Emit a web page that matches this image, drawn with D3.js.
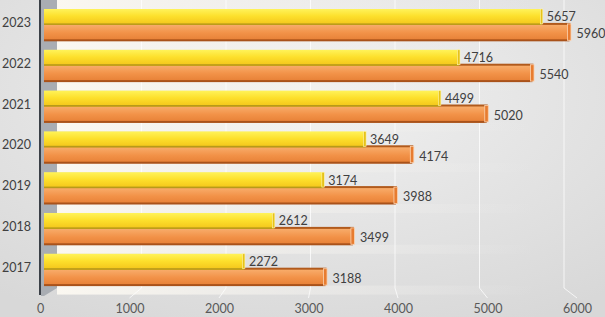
<!DOCTYPE html>
<html>
<head>
<meta charset="utf-8">
<script src="https://cdn.jsdelivr.net/npm/d3@7"></script>
<style>
	body { margin: 0; overflow: hidden; }
	svg { display: block; }
</style>
</head>
<body>
<div id="chart"></div>
<script>
// data, top group first
const years = ['2023', '2022', '2021', '2020', '2019', '2018', '2017'];
const yellowValues = [5657, 4716, 4499, 3649, 3174, 2612, 2272];
const orangeValues = [5960, 5540, 5020, 4174, 3988, 3499, 3188];
const xTickValues = [0, 1000, 2000, 3000, 4000, 5000, 6000];

const width = 605,
	height = 317;

const svg = d3
	.select('#chart')
	.append('svg')
	.attr('width', width)
	.attr('height', height)
	.style('font-family', 'Lato, sans-serif');

const defs = svg.append('defs');

// gradient helper
function gradient(id, stops, vertical) {
	const g = defs
		.append('linearGradient')
		.attr('id', id)
		.attr('x1', 0)
		.attr('y1', 0)
		.attr('x2', vertical ? 0 : 1)
		.attr('y2', vertical ? 1 : 0);
	stops.forEach(function (s) {
		g.append('stop')
			.attr('offset', s[0])
			.attr('stop-color', s[1])
			.attr('stop-opacity', s[2] === undefined ? 1 : s[2]);
	});
}

const bg = defs
	.append('radialGradient')
	.attr('id', 'bg')
	.attr('cx', 0.5)
	.attr('cy', 0.3)
	.attr('r', 0.8);
bg.append('stop').attr('offset', '0%').attr('stop-color', '#f1f1f1');
bg.append('stop').attr('offset', '100%').attr('stop-color', '#d8d8d8');

gradient('yellowFill', [[0, '#fff35a'], [0.45, '#fde02c'], [1, '#f3c41a']], true);
gradient('orangeFill', [[0, '#f8ac6a'], [0.5, '#f29248'], [1, '#e67f35']], true);
gradient('gapFill', [[0, '#fbf8f1', 1], [0.5, '#f4f2ee', 0.55], [1, '#eeeeee', 0]], false);

svg.append('rect').attr('width', width).attr('height', height).attr('fill', 'url(#bg)');

// scales: front face of the bars, floor edge for the tick labels, back wall for grid
const x = d3.scaleLinear().domain([0, 6000]).range([44, 572]);
const xFloor = d3.scaleLinear().domain([0, 6000]).range([40, 577]);
const xBack = d3.scaleLinear().domain([0, 6000]).range([57, 564]);

const y = d3.scaleBand().domain(years).range([9, 285.6]).paddingInner(0.22);
const ySub = d3.scaleBand().domain(['yellow', 'orange']).range([0, y.bandwidth()]);

// light back wall between the groups
const gapTops = [0].concat(years.map((d) => y(d) + y.bandwidth()));
svg
	.append('g')
	.selectAll('rect')
	.data(gapTops)
	.join('rect')
	.attr('x', xBack(0))
	.attr('y', (d) => d)
	.attr('width', 480)
	.attr('height', (d, i) => (i === 0 ? y(years[0]) : y.step() - y.bandwidth()))
	.attr('fill', 'url(#gapFill)');

// grid lines on back wall, bending down to the floor
svg
	.append('g')
	.selectAll('path')
	.data(xTickValues.slice(1))
	.join('path')
	.attr('d', (v) => `M${xBack(v)},0 V288 L${xFloor(v)},298`)
	.attr('fill', 'none')
	.attr('stroke', '#ffffff')
	.attr('stroke-opacity', 0.75)
	.attr('stroke-width', 1);

// left side wall
svg
	.append('path')
	.attr('d', `M41,0 H${xBack(0)} V288 L44,296 H41 Z`)
	.attr('fill', '#a9adb3');

// bars
const groups = svg
	.append('g')
	.selectAll('g')
	.data(years)
	.join('g')
	.attr('transform', (d) => `translate(0,${y(d)})`);

const oy = ySub('orange'),
	yy = ySub('yellow'),
	bh = ySub.bandwidth();

// orange bar (drawn first, its dark top shows past the yellow one)
groups
	.append('rect')
	.attr('x', x(0))
	.attr('y', oy - 2)
	.attr('width', (d, i) => x(orangeValues[i]) - x(0) + 2)
	.attr('height', 3)
	.attr('fill', '#b15a1c');
groups
	.append('rect')
	.attr('x', x(0))
	.attr('y', oy)
	.attr('width', (d, i) => x(orangeValues[i]) - x(0))
	.attr('height', bh)
	.attr('fill', 'url(#orangeFill)');
groups
	.append('rect')
	.attr('x', x(0))
	.attr('y', oy + bh - 1.5)
	.attr('width', (d, i) => x(orangeValues[i]) - x(0) + 1)
	.attr('height', 2)
	.attr('fill', '#a9521a');
groups
	.append('rect')
	.attr('x', (d, i) => x(orangeValues[i]) - 1)
	.attr('y', oy - 1)
	.attr('width', 3.5)
	.attr('height', bh + 0.5)
	.attr('fill', '#e77c30')
	.attr('stroke', '#fbd2b0')
	.attr('stroke-width', 0.8);

// yellow bar
groups
	.append('rect')
	.attr('x', x(0))
	.attr('y', yy)
	.attr('width', (d, i) => x(yellowValues[i]) - x(0))
	.attr('height', bh)
	.attr('fill', 'url(#yellowFill)');
groups
	.append('rect')
	.attr('x', x(0))
	.attr('y', yy + bh - 1.5)
	.attr('width', (d, i) => x(yellowValues[i]) - x(0))
	.attr('height', 1.5)
	.attr('fill', '#b79a1a');
groups
	.append('rect')
	.attr('x', (d, i) => x(yellowValues[i]) - 1.5)
	.attr('y', yy)
	.attr('width', 2.5)
	.attr('height', bh - 1)
	.attr('fill', '#e6c21a')
	.attr('stroke', '#fff6b0')
	.attr('stroke-width', 0.6);

// value labels
groups
	.append('text')
	.attr('x', (d, i) => x(yellowValues[i]) + 5)
	.attr('y', yy + bh / 2)
	.attr('dy', '0.35em')
	.attr('fill', '#404040')
	.style('font-size', '12.5px')
	.text((d, i) => yellowValues[i]);
groups
	.append('text')
	.attr('x', (d, i) => x(orangeValues[i]) + 8)
	.attr('y', oy + bh / 2 + 1)
	.attr('dy', '0.35em')
	.attr('fill', '#404040')
	.style('font-size', '12.5px')
	.text((d, i) => orangeValues[i]);

// vertical axis line
svg
	.append('line')
	.attr('x1', 40)
	.attr('x2', 40)
	.attr('y1', 0)
	.attr('y2', 295)
	.attr('stroke', '#3b4047')
	.attr('stroke-width', 2);

// year labels
const yAxis = svg
	.append('g')
	.attr('transform', 'translate(40,-2)')
	.call(d3.axisLeft(y).tickSize(0).tickPadding(9));
yAxis.select('.domain').remove();
yAxis
	.selectAll('text')
	.attr('fill', '#404040')
	.style('font-size', '12.5px')
	.style('font-family', 'Lato, sans-serif');

// value axis labels
const xAxis = svg
	.append('g')
	.attr('transform', 'translate(0,299)')
	.call(d3.axisBottom(xFloor).tickValues(xTickValues).tickFormat(d3.format('d')).tickSize(0).tickPadding(5));
xAxis.select('.domain').remove();
xAxis
	.selectAll('text')
	.attr('fill', '#595959')
	.style('font-size', '12.5px')
	.style('font-family', 'Lato, sans-serif');
</script>
</body>
</html>
